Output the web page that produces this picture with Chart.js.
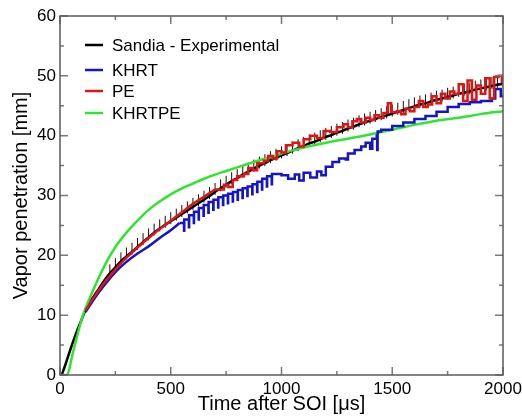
<!DOCTYPE html>
<html lang="en">
<head>
  <meta charset="UTF-8">
  <title>Vapor penetration</title>
  <style>
    html, body { margin: 0; padding: 0; background: #fff; }
  </style>
</head>
<body>
  <canvas id="chart" width="522" height="418"></canvas>

  <script src="https://cdn.jsdelivr.net/npm/chart.js@4.4.0/dist/chart.umd.min.js"></script>
  <script>
    // Sandia - Experimental (time in us, penetration in mm)
    const expTime = [
      8, 25, 50, 75, 100, 125, 150, 175, 200, 225,
      250, 275, 300, 325, 350, 375, 400, 425, 450, 475,
      500, 525, 550, 575, 600, 625, 650, 675, 700, 725,
      750, 775, 800, 825, 850, 875, 900, 925, 950, 975,
      1000, 1025, 1050, 1075, 1100, 1125, 1150, 1175, 1200, 1225,
      1250, 1275, 1300, 1325, 1350, 1375, 1400, 1425, 1450, 1475,
      1500, 1525, 1550, 1575, 1600, 1625, 1650, 1675, 1700, 1725,
      1750, 1775, 1800, 1825, 1850, 1875, 1900, 1925, 1950, 1975,
      2000
    ];
    const expValue = [
      0, 1.8, 4.6, 7.2, 9.5, 11.6, 13.0, 14.4, 15.8, 17.0,
      18.0, 19.0, 19.8, 20.6, 21.4, 22.2, 23.0, 23.8, 24.5, 25.1,
      25.7, 26.3, 26.9, 27.5, 28.1, 28.7, 29.3, 29.9, 30.6, 31.2,
      31.8, 32.4, 32.9, 33.5, 34.0, 34.5, 35.0, 35.4, 35.9, 36.3,
      36.7, 37.1, 37.5, 37.9, 38.3, 38.7, 39.0, 39.4, 39.8, 40.1,
      40.5, 40.8, 41.2, 41.5, 41.9, 42.2, 42.5, 42.8, 43.1, 43.4,
      43.7, 44.0, 44.3, 44.6, 44.9, 45.2, 45.4, 45.7, 46.0, 46.2,
      46.5, 46.7, 47.0, 47.2, 47.4, 47.7, 47.9, 48.1, 48.3, 48.5,
      48.7
    ];
    // error band of the measurement (mm below / above)
    const expErrDown = 0.5;
    const expErrUp = 1.5;
    const expErrFrom = 225;

    // KHRT
    const khrtEarlyTime = [115, 150, 200, 250, 300, 350, 400, 450, 500, 540];
    const khrtEarlyValue = [10.5, 12.5, 15.0, 17.2, 18.9, 20.3, 21.5, 22.9, 24.2, 25.4];
    const khrtLateTime = [
      540, 560, 561, 582, 583, 604, 605, 626, 627, 648,
      649, 670, 671, 692, 693, 714, 715, 736, 737, 758,
      759, 780, 781, 802, 803, 824, 825, 846, 847, 868,
      869, 890, 891, 912, 913, 934, 935, 956, 957, 1000,
      1030, 1060, 1080, 1100, 1130, 1160, 1180, 1200, 1230, 1260,
      1290, 1300, 1330, 1360, 1380, 1400, 1410, 1430, 1432, 1434,
      1450, 1500, 1550, 1600, 1650, 1700, 1750, 1800, 1850, 1900,
      1950, 1965, 1990, 2000
    ];
    const khrtLateValue = [
      25.4, 24.1, 26.0, 24.7, 26.7, 25.4, 27.3, 26.0, 27.9, 26.6,
      28.4, 27.1, 28.9, 27.6, 29.3, 28.0, 29.7, 28.4, 30.0, 28.7,
      30.3, 29.0, 30.6, 29.3, 30.9, 29.6, 31.2, 29.9, 31.5, 30.2,
      31.9, 30.6, 32.3, 31.0, 32.8, 31.5, 33.2, 31.9, 33.6, 33.4,
      32.8, 33.5, 32.5, 33.8, 33.0, 34.0, 33.4, 34.8, 35.6, 36.2,
      36.0, 37.0, 37.6, 38.2, 38.8, 37.8, 39.5, 40.0, 37.6, 40.7,
      41.0, 41.6, 42.2, 42.8, 43.3, 44.0, 44.8, 45.3, 45.6, 45.8,
      46.2, 47.8, 46.6, 46.5
    ];

    // PE
    const peEarlyTime = [115, 150, 200, 250, 300, 350, 400, 450, 500, 550, 600, 650, 700];
    const peEarlyValue = [10.8, 12.8, 15.4, 17.6, 19.6, 21.3, 22.9, 24.4, 25.8, 27.2, 28.6, 29.8, 31.0];
    const peLateTime = [
      700, 740, 760, 780, 800, 830, 850, 870, 890, 920,
      940, 960, 980, 1000, 1020, 1050, 1080, 1100, 1130, 1160,
      1190, 1220, 1250, 1280, 1300, 1320, 1340, 1360, 1380, 1400,
      1420, 1440, 1460, 1480, 1495, 1520, 1540, 1560, 1580, 1600,
      1620, 1640, 1660, 1680, 1700, 1720, 1740, 1760, 1780, 1800,
      1820, 1840, 1860, 1880, 1900, 1920, 1940, 1960, 1980, 1995,
      2000
    ];
    const peLateValue = [
      31.0, 31.8, 31.4, 32.6, 33.2, 33.6, 34.6, 34.2, 35.4, 35.8,
      36.6, 36.2, 37.4, 37.2, 38.4, 38.8, 38.2, 39.4, 40.0, 39.6,
      40.8, 40.6, 41.4, 41.9, 41.4, 42.4, 42.8, 42.2, 43.0, 42.6,
      43.4, 43.0, 43.8, 45.4, 43.9, 44.1, 43.6, 44.5, 44.1, 44.8,
      45.8, 44.8, 45.2, 46.6, 45.4, 47.0, 46.2, 47.4, 47.0, 48.6,
      45.8, 49.2, 46.0, 48.4, 47.0, 49.6, 46.2, 49.8, 50.0, 49.0,
      48.2
    ];

    // KHRTPE
    const khrtpeTime = [
      0, 30, 60, 100, 150, 200, 250, 300, 350, 400,
      450, 500, 550, 600, 650, 700, 750, 800, 850, 900,
      950, 1000, 1100, 1200, 1300, 1400, 1500, 1600, 1700, 1800,
      1900, 2000
    ];
    const khrtpeValue = [
      0, 0, 4.0, 9.6, 14.2, 18.2, 21.4, 23.8, 25.8, 27.6,
      29.0, 30.2, 31.2, 32.0, 32.8, 33.5, 34.1, 34.7, 35.3, 35.9,
      36.4, 37.0, 38.0, 38.8, 39.5, 40.2, 41.0, 41.8, 42.5, 43.0,
      43.6, 44.1
    ];

    const seriesNames = ['Sandia - Experimental', 'KHRT', 'PE', 'KHRTPE'];
    const seriesColors = ['#000000', '#1414c8', '#e01414', '#2ee62e'];

    const xMajorTicks = [0, 500, 1000, 1500, 2000];
    const xMinorTicks = [250, 750, 1250, 1750];
    const yMajorTicks = [0, 10, 20, 30, 40, 50, 60];
    const yMinorTicks = [5, 15, 25, 35, 45, 55];

    const FONT = '"Liberation Sans", Arial, sans-serif';

    const toPoints = (xs, ys) => xs.map((x, i) => ({ x: x, y: ys[i] }));

    // vertical error segments, separated by gaps
    const errPoints = [];
    expTime.forEach((t, i) => {
      if (t < expErrFrom) return;
      errPoints.push({ x: t, y: expValue[i] - expErrDown });
      errPoints.push({ x: t, y: expValue[i] + expErrUp });
      errPoints.push({ x: t, y: null });
    });

    const lineDefaults = { pointRadius: 0, borderWidth: 2.5, fill: false, tension: 0 };
    const smooth = { cubicInterpolationMode: 'monotone' };

    // box, inward ticks on all sides, legend inside the plot
    const framePlugin = {
      id: 'frame',
      afterDatasetsDraw(chart) {
        const { ctx, chartArea: a, scales: { x, y } } = chart;
        ctx.save();
        ctx.strokeStyle = '#7a7a7a';
        ctx.lineWidth = 1.5;
        ctx.beginPath();
        const xt = (list, len) => list.forEach(v => {
          const px = x.getPixelForValue(v);
          ctx.moveTo(px, a.bottom); ctx.lineTo(px, a.bottom - len);
          ctx.moveTo(px, a.top); ctx.lineTo(px, a.top + len);
        });
        const yt = (list, len) => list.forEach(v => {
          const py = y.getPixelForValue(v);
          ctx.moveTo(a.left, py); ctx.lineTo(a.left + len, py);
          ctx.moveTo(a.right, py); ctx.lineTo(a.right - len, py);
        });
        xt(xMajorTicks, 8); xt(xMinorTicks, 4);
        yt(yMajorTicks, 8); yt(yMinorTicks, 4);
        ctx.stroke();
        ctx.strokeStyle = '#5a5a5a';
        ctx.strokeRect(a.left, a.top, a.right - a.left, a.bottom - a.top);

        // legend
        const rows = [29, 54, 75, 97];
        ctx.font = '17px ' + FONT;
        ctx.textBaseline = 'middle';
        ctx.textAlign = 'left';
        seriesNames.forEach((name, i) => {
          const ry = a.top + rows[i];
          ctx.strokeStyle = seriesColors[i];
          ctx.lineWidth = 2.5;
          ctx.beginPath();
          ctx.moveTo(a.left + 25, ry);
          ctx.lineTo(a.left + 43, ry);
          ctx.stroke();
          ctx.fillStyle = '#000';
          ctx.fillText(name, a.left + 52, ry + 1);
        });
        ctx.restore();
      }
    };

    new Chart(document.getElementById('chart').getContext('2d'), {
      type: 'line',
      data: {
        datasets: [
          { ...lineDefaults, label: 'PE', data: toPoints(peLateTime, peLateValue), borderColor: seriesColors[2], stepped: true, order: 1 },
          { ...lineDefaults, ...smooth, label: 'PE early', data: toPoints(peEarlyTime, peEarlyValue), borderColor: seriesColors[2], order: 1 },
          { ...lineDefaults, label: 'KHRT', data: toPoints(khrtLateTime, khrtLateValue), borderColor: seriesColors[1], stepped: true, order: 2 },
          { ...lineDefaults, ...smooth, label: 'KHRT early', data: toPoints(khrtEarlyTime, khrtEarlyValue), borderColor: seriesColors[1], order: 2 },
          { ...lineDefaults, ...smooth, label: 'KHRTPE', data: toPoints(khrtpeTime, khrtpeValue), borderColor: seriesColors[3], order: 3 },
          { ...lineDefaults, ...smooth, label: 'Sandia - Experimental', data: toPoints(expTime, expValue), borderColor: seriesColors[0], order: 4 },
          { ...lineDefaults, label: 'error', data: errPoints, borderColor: '#111', borderWidth: 1, spanGaps: false, order: 5 }
        ]
      },
      options: {
        responsive: false,
        animation: false,
        layout: { padding: { top: 16, right: 19, left: 0, bottom: 0 } },
        plugins: {
          legend: { display: false },
          tooltip: { enabled: false }
        },
        scales: {
          x: {
            type: 'linear',
            min: 0,
            max: 2000,
            afterFit: (scale) => {
              scale.height = 43;
              scale.paddingLeft = 0;
              scale.paddingRight = 0;
            },
            grid: { display: false, drawTicks: false },
            border: { display: false },
            ticks: {
              stepSize: 500, padding: 4, color: '#000', font: { family: FONT, size: 17 },
              callback: (v) => String(v)
            },
            title: {
              display: true,
              text: 'Time after SOI [μs]',
              color: '#000',
              font: { family: FONT, size: 20 },
              padding: { top: 0, bottom: 2 }
            }
          },
          y: {
            type: 'linear',
            min: 0,
            max: 60,
            afterFit: (scale) => { scale.width = 60; },
            grid: { display: false, drawTicks: false },
            border: { display: false },
            ticks: {
              stepSize: 10, padding: 4, color: '#000', font: { family: FONT, size: 17 },
              callback: (v) => String(v)
            },
            title: {
              display: true,
              text: 'Vapor penetration [mm]',
              color: '#000',
              font: { family: FONT, size: 20 },
              padding: { top: 9, bottom: 0 }
            }
          }
        }
      },
      plugins: [framePlugin]
    });
  </script>
</body>
</html>
